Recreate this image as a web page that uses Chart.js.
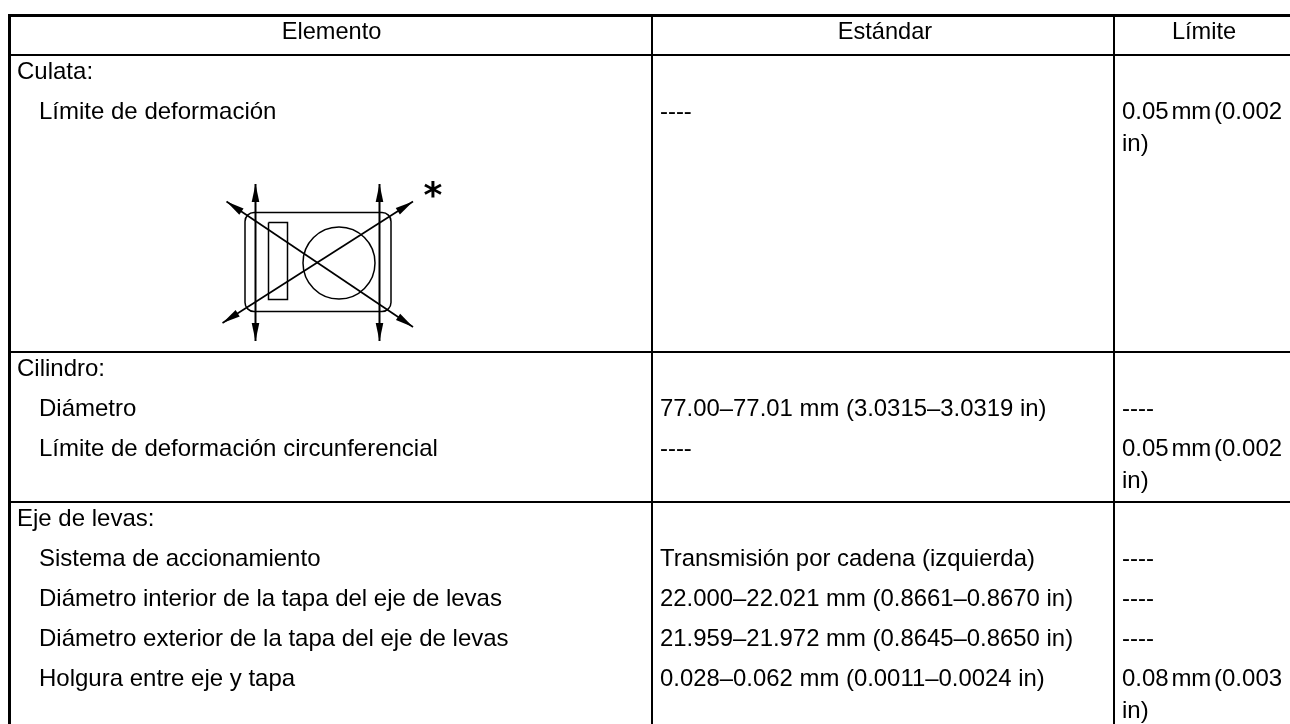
<!DOCTYPE html>
<html>
<head>
<meta charset="utf-8">
<style>
  html, body { margin: 0; padding: 0; background: #fff; overflow: hidden; }
  canvas { display: block; }
</style>
<script src="https://cdn.jsdelivr.net/npm/chart.js@4/dist/chart.umd.min.js"></script>
</head>
<body>
<canvas id="specs" width="1290" height="724"></canvas>
<script>
// table text, one list per column
var headers = ['Elemento', 'Estándar', 'Límite'];
var elementos = ['Culata:', '  Límite de deformación', 'Cilindro:', '  Diámetro', '  Límite de deformación circunferencial', 'Eje de levas:', '  Sistema de accionamiento', '  Diámetro interior de la tapa del eje de levas', '  Diámetro exterior de la tapa del eje de levas', '  Holgura entre eje y tapa'];
var estandar = ['', '----', '', '77.00–77.01 mm (3.0315–3.0319 in)', '----', '', 'Transmisión por cadena (izquierda)', '22.000–22.021 mm (0.8661–0.8670 in)', '21.959–21.972 mm (0.8645–0.8650 in)', '0.028–0.062 mm (0.0011–0.0024 in)'];
var limite = ['', '0.05 mm (0.002|in)', '', '----', '0.05 mm (0.002|in)', '', '----', '----', '----', '0.08 mm (0.003|in)'];

// layout, in the 1290x724 units of the two scales (text y is the baseline)
var rowY = [79, 119, 376, 416, 456, 526, 566, 606, 646, 686];
var headerY = 39;
var lineHeight = 31.5;
var columnLeft = [9, 652, 1114];
var columnFont = [24, 23.9, 24];
var columnWordGap = ['0px', '0px', '-4px'];
var headerCenter = [331.5, 885, 1204];
var hLines = [[15.5, 3], [55, 2], [352, 2], [502, 2]];
var vLines = [[9.5, 3], [652, 2], [1114, 2]];

// sketch of the cylinder head
var sketchBody = {x0: 245, x1: 391, y0: 212.5, y1: 311.5, r: 9};
var sketchPort = [[268.5, 222.5], [287.5, 222.5], [287.5, 299.5], [268.5, 299.5], [268.5, 222.5]];
var sketchBore = {x: 339, y: 263, r: 36};
var sketchArrows = [
  [255.5, 184, 255.5, 341, 2],
  [379.5, 184, 379.5, 341, 2],
  [226.5, 201.5, 413, 327, 1.7],
  [413, 201.5, 222.5, 323, 1.7]
];

function lineSet(points, width) {
  return {
    type: 'line',
    data: points,
    borderColor: '#000',
    borderWidth: width,
    pointRadius: 0,
    tension: 0,
    clip: false
  };
}

var datasets = [];
hLines.forEach(function(l) {
  datasets.push(lineSet([{x: 8, y: l[0]}, {x: 1290, y: l[0]}], l[1]));
});
vLines.forEach(function(l) {
  datasets.push(lineSet([{x: l[0], y: 15}, {x: l[0], y: 724}], l[1]));
});
datasets.push(lineSet(sketchPort.map(function(p) { return {x: p[0], y: p[1]}; }), 1.5));
sketchArrows.forEach(function(a) {
  datasets.push(lineSet([{x: a[0], y: a[1]}, {x: a[2], y: a[3]}], a[4]));
});
datasets.push({
  type: 'scatter',
  data: [{x: sketchBore.x, y: sketchBore.y}],
  pointRadius: sketchBore.r,
  pointBorderWidth: 1.5,
  pointBorderColor: '#000',
  pointBackgroundColor: 'rgba(0,0,0,0)',
  clip: false
});

function arrowHead(ctx, xs, ys, x0, y0, x1, y1) {
  var tx = xs.getPixelForValue(x1), ty = ys.getPixelForValue(y1);
  var a = Math.atan2(ys.getPixelForValue(y1) - ys.getPixelForValue(y0), xs.getPixelForValue(x1) - xs.getPixelForValue(x0));
  ctx.save();
  ctx.translate(tx, ty);
  ctx.rotate(a);
  ctx.beginPath();
  ctx.moveTo(0, 0);
  ctx.lineTo(-18, -3.8);
  ctx.lineTo(-18, 3.8);
  ctx.closePath();
  ctx.fill();
  ctx.restore();
}

var tableText = {
  id: 'tableText',
  afterDatasetsDraw: function(chart) {
    var ctx = chart.ctx, xs = chart.scales.x, ys = chart.scales.y;
    ctx.save();
    ctx.fillStyle = '#000';
    ctx.strokeStyle = '#000';

    // rounded outline of the head
    var b = sketchBody;
    ctx.lineWidth = 1.5;
    ctx.beginPath();
    ctx.roundRect(xs.getPixelForValue(b.x0), ys.getPixelForValue(b.y0), b.x1 - b.x0, b.y1 - b.y0, b.r);
    ctx.stroke();

    sketchArrows.forEach(function(a) {
      arrowHead(ctx, xs, ys, a[0], a[1], a[2], a[3]);
      arrowHead(ctx, xs, ys, a[2], a[3], a[0], a[1]);
    });

    ctx.font = 'bold 36px "DejaVu Sans"';
    ctx.textAlign = 'center';
    ctx.textBaseline = 'middle';
    ctx.fillText('*', xs.getPixelForValue(433), ys.getPixelForValue(198));

    // cells
    ctx.font = '23.6px "Liberation Sans"';
    ctx.textBaseline = 'alphabetic';
    headers.forEach(function(h, i) {
      ctx.fillText(h, xs.getPixelForValue(headerCenter[i]), ys.getPixelForValue(headerY));
    });
    ctx.textAlign = 'left';
    [elementos, estandar, limite].forEach(function(col, c) {
      ctx.font = columnFont[c] + 'px "Liberation Sans"';
      ctx.wordSpacing = columnWordGap[c];
      col.forEach(function(text, r) {
        var indent = text.indexOf('  ') === 0 ? 22 : 0;
        text.trim().split('|').forEach(function(part, n) {
          ctx.fillText(part, xs.getPixelForValue(columnLeft[c] + 8 + indent), ys.getPixelForValue(rowY[r] + n * lineHeight));
        });
      });
    });
    ctx.restore();
  }
};

new Chart(document.getElementById('specs'), {
  type: 'scatter',
  data: {datasets: datasets},
  options: {
    responsive: false,
    animation: false,
    layout: {padding: 0, autoPadding: false},
    plugins: {legend: {display: false}, tooltip: {enabled: false}},
    scales: {
      x: {type: 'linear', min: 0, max: 1290, display: false},
      y: {type: 'linear', min: 0, max: 724, reverse: true, display: false}
    }
  },
  plugins: [tableText]
});
</script>
</body>
</html>
